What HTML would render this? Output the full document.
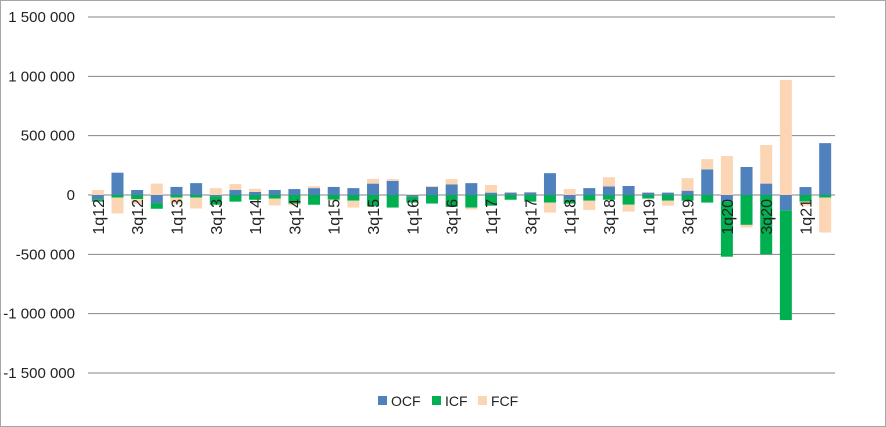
<!DOCTYPE html>
<html><head><meta charset="utf-8"><style>
body{margin:0;background:#fff;}
svg{display:block;font-family:"Liberation Sans",sans-serif;}
</style></head><body>
<svg id="chart" width="886" height="427" viewBox="0 0 886 427">
<rect x="0.5" y="0.5" width="885" height="426" fill="#fff" stroke="#a6a6a6"/>
<g id="grid"></g>
<g id="bars"></g>
<g id="yaxis"></g>
<g id="xaxis"></g>
<g font-size="14" fill="#222">
<g><rect x="378" y="396" width="9" height="9" fill="#4f81bd"/><text x="391" y="406">OCF</text></g>
<g><rect x="432" y="396" width="9" height="9" fill="#00b050"/><text x="445" y="406">ICF</text></g>
<g><rect x="478" y="396" width="9" height="9" fill="#fcd5b4"/><text x="491" y="406">FCF</text></g>
</g>
</svg>
<script>
const categories=["1q12","2q12","3q12","4q12","1q13","2q13","3q13","4q13","1q14","2q14","3q14","4q14","1q15","2q15","3q15","4q15","1q16","2q16","3q16","4q16","1q17","2q17","3q17","4q17","1q18","2q18","3q18","4q18","1q19","2q19","3q19","4q19","1q20","2q20","3q20","4q20","1q21","2q21"];
const ocf=[-36,188,42,-68,68,100,-12,42,26,42,50,58,68,58,96,118,-14,68,90,100,20,20,22,184,-36,58,72,76,20,20,36,216,-56,236,96,-129,67,437];
const icf=[-20,-22,-34,-48,-22,-22,-70,-56,-40,-30,-72,-82,-40,-48,-96,-106,-50,-72,-100,-106,-90,-40,-56,-64,-36,-48,-40,-82,-30,-48,-48,-64,-464,-252,-500,-925,-56,-22];
const fcf=[42,-134,-40,96,-50,-92,58,50,26,-58,-14,16,-8,-58,40,16,8,8,44,-16,64,6,4,-84,50,-78,78,-58,4,-42,106,86,328,-22,325,970,-34,-294];
const yTicks=[1500,1000,500,0,-500,-1000,-1500];
const yTickLabels=["1 500 000","1 000 000","500 000","0","-500 000","-1 000 000","-1 500 000"];
const NS="http://www.w3.org/2000/svg";
const L=88,R=835,Y0=195,PX=178/1500;
function y(v){return Y0-v*PX;}
const bw=(R-L)/categories.length;
function x(i){return L+bw*i+bw/2;}
function mk(t,a,p){const e=document.createElementNS(NS,t);for(const k in a)e.setAttribute(k,a[k]);p.appendChild(e);return e;}
const grid=document.getElementById('grid'),ya=document.getElementById('yaxis'),xa=document.getElementById('xaxis'),bars=document.getElementById('bars');
yTicks.forEach((v,i)=>{
  const ln=mk('line',{x1:L,x2:R,y1:y(v),y2:y(v),stroke:'#868686','stroke-width':1},grid);
  
  
  const t=mk('text',{x:75,y:y(v)+5,'text-anchor':'end','font-size':15,fill:'#222'},ya);
  t.textContent=yTickLabels[i];
  
  
});
const series=[[ocf,'#4f81bd','ocf'],[icf,'#00b050','icf'],[fcf,'#fcd5b4','fcf']];
categories.forEach((c,i)=>{
  let pos=0,neg=0;
  series.forEach(([arr,col,nm])=>{
    const v=arr[i];let a,b;
    if(v>=0){a=pos;b=pos+v;pos=b;}else{a=neg;b=neg+v;neg=b;}
    const top=Math.min(y(a),y(b)),h=Math.abs(y(a)-y(b));
    const r=mk('rect',{x:x(i)-6,y:top,width:12,height:h,fill:col},bars);
    
    
  });
  if(i%2===0){
    const t=mk('text',{transform:`translate(${x(i)+6},199) rotate(-90)`,'text-anchor':'end','font-size':16,fill:'#222'},xa);
    t.textContent=c;
    
    
  }
});
</script>
</body></html>
